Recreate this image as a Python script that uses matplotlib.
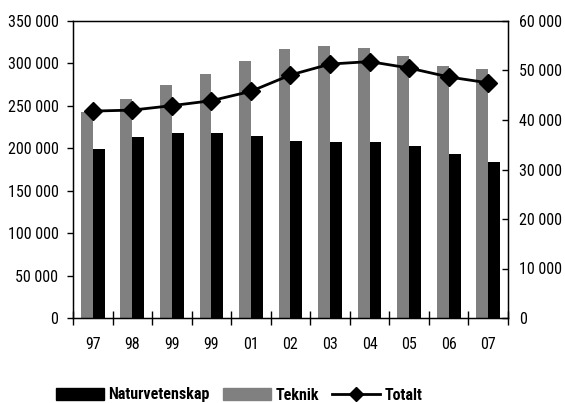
import matplotlib.pyplot as plt
from matplotlib.ticker import FuncFormatter, FixedLocator
from matplotlib.lines import Line2D
from matplotlib.patches import Patch
import numpy as np

years = ['97', '98', '99', '99', '01', '02', '03', '04', '05', '06', '07']
teknik = [243000, 258000, 274500, 287500, 302500, 317000, 320500, 318000, 309000, 297000, 293500]
natur = [199500, 213500, 218500, 218000, 214500, 209000, 207500, 207500, 202500, 193500, 184000]
totalt = [41800, 42000, 42900, 43900, 45800, 49100, 51300, 51800, 50500, 48700, 47500]

FONT = ['Roboto Condensed', 'DejaVu Sans']
plt.rcParams['font.family'] = FONT
plt.rcParams['font.size'] = 11.5


def space_fmt(v, pos):
    return f'{int(round(v)):,}'.replace(',', ' ')


def main():
    fig = plt.figure(figsize=(5.65, 4.03), dpi=100)
    ax = fig.add_axes([73 / 565, 1 - 318 / 403, 435 / 565, 297 / 403])
    x = np.arange(len(years))
    w = 0.3

    ax.bar(x - w / 2, teknik, w, color='#808080', label='Teknik')
    ax.bar(x + w / 2, natur, w, color='black', label='Naturvetenskap')
    ax.set_xlim(-0.5, len(years) - 0.5)
    ax.set_ylim(0, 350000)
    ax.set_yticks(range(0, 350001, 50000))
    ax.yaxis.set_major_formatter(FuncFormatter(space_fmt))
    ax.set_xticks(x)
    ax.set_xticklabels(years)
    ax.xaxis.set_minor_locator(FixedLocator(np.arange(-0.5, len(years), 1)))
    ax.tick_params(axis='x', which='major', length=0, pad=14)
    ax.tick_params(axis='x', which='minor', direction='inout', length=10, width=1)
    ax.tick_params(axis='y', direction='out', length=4.5, width=1, pad=6)
    for s in ax.spines.values():
        s.set_linewidth(1)
        s.set_color('black')

    ax2 = ax.twinx()
    ax2.plot(x, totalt, color='black', lw=2, marker='D', markersize=9, label='Totalt')
    ax2.set_ylim(0, 60000)
    ax2.set_yticks(range(0, 60001, 10000))
    ax2.yaxis.set_major_formatter(FuncFormatter(space_fmt))
    ax2.tick_params(axis='y', direction='in', length=4.5, width=1, pad=8)

    handles = [Patch(color='black'), Patch(color='#808080'),
               Line2D([], [], color='black', lw=2, marker='D', markersize=7)]
    fig.legend(handles, ['Naturvetenskap', 'Teknik', 'Totalt'], loc='center',
               bbox_to_anchor=(239 / 565, 1 - 395 / 403), ncol=3, frameon=False,
               prop={'family': FONT, 'weight': 'bold', 'size': 11.5},
               handlelength=3.0, handleheight=0.85, handletextpad=0.3,
               columnspacing=0.8, borderaxespad=0)

    fig.savefig('out.png', dpi=100)


if __name__ == '__main__':
    main()
